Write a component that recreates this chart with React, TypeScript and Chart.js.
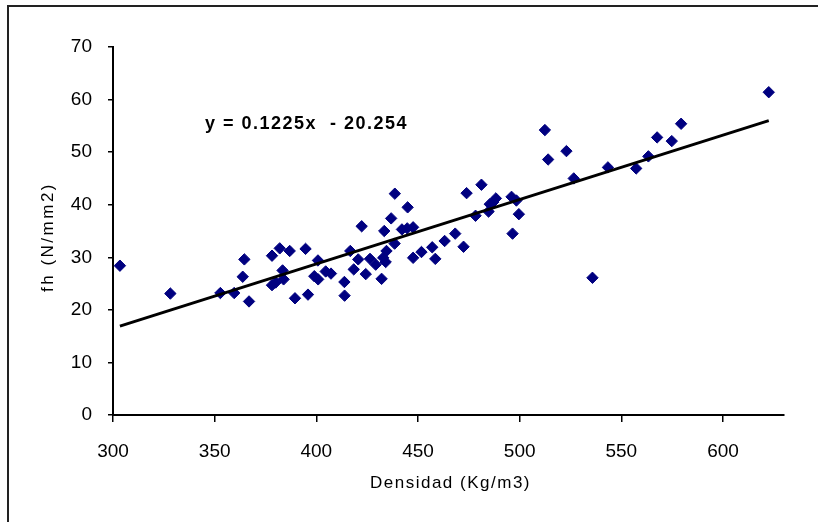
import React, { useEffect, useRef } from 'react';
import { Chart, registerables } from 'chart.js';

Chart.register(...registerables);

// Densidad (Kg/m3)
const density = [
  303.4, 328.2, 352.8, 359.6, 363.8, 364.6, 366.9, 378.2, 378.2, 380.0,
  382.0, 383.4, 383.9, 386.9, 389.5, 394.7, 395.9, 399.0, 400.8, 400.9,
  404.6, 407.2, 413.8, 413.9, 416.7, 418.4, 420.6, 422.3, 424.3, 426.4,
  429.2, 432.1, 432.9, 433.4, 434.1, 434.5, 436.8, 438.5, 438.6, 442.1,
  444.7, 444.9, 447.6, 447.6, 451.7, 457.0, 458.5, 463.1, 468.3, 472.4,
  473.9, 478.3, 481.2, 484.7, 485.3, 487.0, 488.3, 496.0, 496.5, 498.4,
  499.6, 512.4, 514.0, 523.0, 526.6, 535.8, 543.4, 557.3, 563.3, 567.6,
  574.8, 579.4, 622.5,
];

// fh (N/mm2)
const fh = [
  28.4, 23.1, 23.2, 23.2, 26.3, 29.6, 21.6, 30.3, 24.7, 25.2,
  31.7, 27.5, 25.8, 31.2, 22.2, 31.6, 22.9, 26.4, 29.4, 25.8,
  27.3, 26.9, 25.3, 22.7, 31.2, 27.7, 29.6, 35.9, 26.8, 29.7,
  28.6, 25.9, 29.9, 35.0, 29.1, 31.2, 37.4, 32.6, 42.1, 35.3,
  35.5, 39.5, 35.7, 29.9, 31.0, 31.9, 29.7, 33.1, 34.5, 32.0,
  42.2, 37.9, 43.8, 38.7, 40.1, 40.5, 41.2, 41.5, 34.5, 40.8,
  38.2, 54.2, 48.6, 50.2, 45.0, 26.1, 47.1, 46.9, 49.2, 52.8,
  52.1, 55.4, 61.4,
];

const SLOPE = 0.1225;
const INTERCEPT = -20.254;
const TREND_X = [303.4, 622.5];

const X_TICKS = [300, 350, 400, 450, 500, 550, 600];
const Y_TICKS = [0, 10, 20, 30, 40, 50, 60, 70];

const X_TITLE = 'Densidad (Kg/m3)';
const Y_TITLE = 'fh (N/mm2)';
const EQUATION = 'y = 0.1225x  - 20.254';
const EQ_POS = { x: 345.2, y: 55.3 };

const FONT = '"Liberation Sans", Arial, Helvetica, sans-serif';

const textPlugin = {
  id: 'customText',
  afterDraw(chart: any) {
    const { ctx, chartArea, scales } = chart;
    ctx.save();
    ctx.fillStyle = '#000';
    // equation
    ctx.font = `bold 18px ${FONT}`;
    (ctx as any).letterSpacing = '1.5px';
    ctx.textAlign = 'left';
    ctx.textBaseline = 'middle';
    ctx.fillText(EQUATION, scales.x.getPixelForValue(EQ_POS.x), scales.y.getPixelForValue(EQ_POS.y));
    // x title
    ctx.font = `17px ${FONT}`;
    (ctx as any).letterSpacing = '1.5px';
    ctx.textAlign = 'center';
    ctx.fillText(X_TITLE, (chartArea.left + chartArea.right) / 2 + 2, 483);
    // y title
    ctx.translate(48, (chartArea.top + chartArea.bottom) / 2 + 6);
    ctx.rotate(-Math.PI / 2);
    (ctx as any).letterSpacing = '2.5px';
    ctx.font = `17px ${FONT}`;
    ctx.fillText(Y_TITLE, 0, 0);
    ctx.restore();
  },
};

export default function App() {
  const ref = useRef<HTMLCanvasElement | null>(null);

  useEffect(() => {
    if (!ref.current) return;
    const points = density.map((d, i) => ({ x: d, y: fh[i] }));
    const trend = TREND_X.map((x) => ({ x, y: SLOPE * x + INTERCEPT }));
    const chart = new Chart(ref.current, {
      type: 'scatter',
      data: {
        datasets: [
          {
            type: 'line',
            data: trend,
            borderColor: '#000',
            borderWidth: 3,
            pointRadius: 0,
            fill: false,
            order: 0,
          } as any,
          {
            type: 'scatter',
            data: points,
            pointStyle: 'rectRot',
            pointRadius: 5.7,
            backgroundColor: '#000080',
            borderColor: '#000080',
            borderWidth: 1,
            order: 1,
          } as any,
        ],
      },
      options: {
        responsive: false,
        animation: false,
        layout: { padding: { left: 0, top: 47, right: 34, bottom: 0 } },
        plugins: { legend: { display: false }, tooltip: { enabled: false } },
        scales: {
          x: {
            type: 'linear',
            min: 300,
            max: 630,
            afterBuildTicks: (s: any) => {
              s.ticks = X_TICKS.map((v) => ({ value: v }));
            },
            afterFit: (s: any) => {
              s.height = 107;
            },
            grid: { drawOnChartArea: false, drawTicks: true, tickLength: 7, color: '#000', lineWidth: 1.5 },
            border: { color: '#000', width: 2 },
            ticks: { color: '#000', font: { size: 19, family: FONT }, padding: 18, maxRotation: 0, autoSkip: false },
          },
          y: {
            type: 'linear',
            min: 0,
            max: 70,
            afterBuildTicks: (s: any) => {
              s.ticks = Y_TICKS.map((v) => ({ value: v }));
            },
            afterFit: (s: any) => {
              s.width = 113;
            },
            grid: { drawOnChartArea: false, drawTicks: true, tickLength: 5, color: '#000', lineWidth: 1.5 },
            border: { color: '#000', width: 2 },
            ticks: { color: '#000', font: { size: 19, family: FONT }, padding: 16, autoSkip: false },
          },
        },
      } as any,
      plugins: [textPlugin],
    });
    return () => chart.destroy();
  }, []);

  return (
    <div style={{ position: 'absolute', left: 0, top: 0, width: 818, height: 522, overflow: 'hidden', background: '#fff' }}>
      <div
        style={{
          position: 'absolute',
          left: 7,
          top: 5,
          width: 900,
          height: 600,
          borderTop: '2px solid #222',
          borderLeft: '2px solid #222',
        }}
      />
      <canvas ref={ref} width={818} height={522} style={{ position: 'absolute', left: 0, top: 0, display: 'block' }} />
    </div>
  );
}
